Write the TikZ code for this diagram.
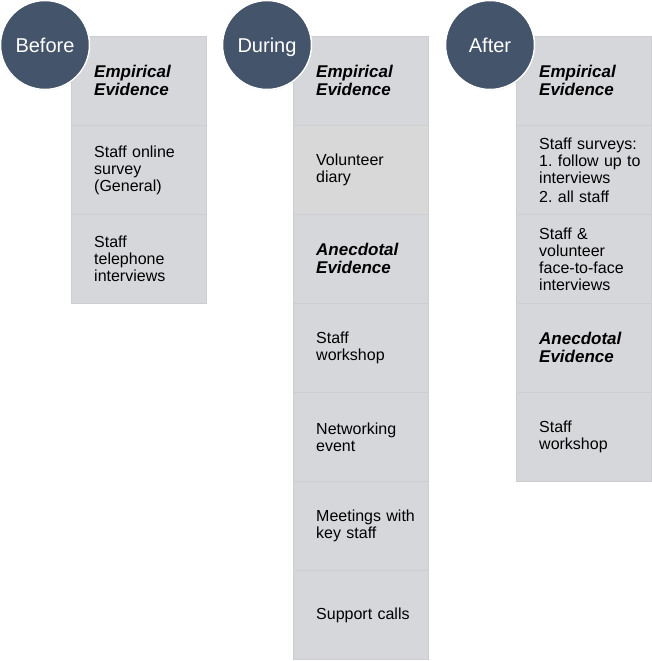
\documentclass[tikz,border=0pt]{standalone}
\usepackage{fontspec}
\setmainfont{Liberation Sans}
\usetikzlibrary{shadows}
\definecolor{boxfill}{HTML}{D6D7DB}
\definecolor{boxline}{HTML}{CDCED2}
\definecolor{diaryfill}{HTML}{D7D8D7}
\definecolor{circfill}{HTML}{44546A}
\frenchspacing
\begin{document}
\begin{tikzpicture}[x=1pt,y=-1pt,
  cell/.style={rectangle, fill=boxfill, draw=boxline, line width=0.8pt, minimum width=135pt, minimum height=89pt, anchor=north west, inner sep=0pt},
  lbl/.style={anchor=west, align=left, text width=110pt, inner sep=0pt, font=\fontsize{16}{17}\selectfont, text=black},
  head/.style={lbl, font=\fontsize{17}{18}\selectfont\bfseries\itshape},
  phase/.style={circle, fill=circfill, draw=white, line width=1.5pt, minimum size=89pt, inner sep=0pt, text depth=0pt, text=white, font=\fontsize{20}{22}\selectfont, drop shadow={opacity=0.25, shadow xshift=0.6pt, shadow yshift=-0.8pt}}]
\useasboundingbox (0,0) rectangle (651,661);

% Before column
\node[cell] (b1) at (71,36) {};
\node[cell] (b2) at (71,125) {};
\node[cell] (b3) at (71,214) {};
\node[head] (b1t) at ([xshift=23pt]b1.west) {Empirical\\Evidence};
\node[lbl] (b2t) at ([xshift=23pt]b2.west) {Staff online\\survey\\(General)};
\node[lbl] (b3t) at ([xshift=23pt]b3.west) {Staff\\telephone\\interviews};

% During column
\node[cell] (d1) at (293,36) {};
\node[cell, fill=diaryfill] (d2) at (293,125) {};
\node[cell] (d3) at (293,214) {};
\node[cell] (d4) at (293,303) {};
\node[cell] (d5) at (293,392) {};
\node[cell] (d6) at (293,481) {};
\node[cell] (d7) at (293,570) {};
\node[head] (d1t) at ([xshift=23pt]d1.west) {Empirical\\Evidence};
\node[lbl] (d2t) at ([xshift=23pt]d2.west) {Volunteer\\diary};
\node[head] (d3t) at ([xshift=23pt]d3.west) {Anecdotal\\Evidence};
\node[lbl] (d4t) at ([xshift=23pt]d4.west) {Staff\\workshop};
\node[lbl] (d5t) at ([xshift=23pt]d5.west) {Networking\\event};
\node[lbl] (d6t) at ([xshift=23pt]d6.west) {Meetings with\\key staff};
\node[lbl] (d7t) at ([xshift=23pt]d7.west) {Support calls};

% After column
\node[cell] (a1) at (516,36) {};
\node[cell] (a2) at (516,125) {};
\node[cell] (a3) at (516,214) {};
\node[cell] (a4) at (516,303) {};
\node[cell] (a5) at (516,392) {};
\node[head] (a1t) at ([xshift=23pt]a1.west) {Empirical\\Evidence};
\node[lbl] (a2t) at ([xshift=23pt]a2.west) {Staff surveys:\\1. follow up to\\interviews\\[2pt]2. all staff};
\node[lbl] (a3t) at ([xshift=23pt]a3.west) {Staff \&\\volunteer\\face-to-face\\interviews};
\node[head] (a4t) at ([xshift=23pt]a4.west) {Anecdotal\\Evidence};
\node[lbl] (a5t) at ([xshift=23pt]a5.west) {Staff\\workshop};

% Phase circles
\node[phase] (before) at (45,45) {Before};
\node[phase] (during) at (267,45) {During};
\node[phase] (after) at (490,45) {After};
\end{tikzpicture}
\end{document}
